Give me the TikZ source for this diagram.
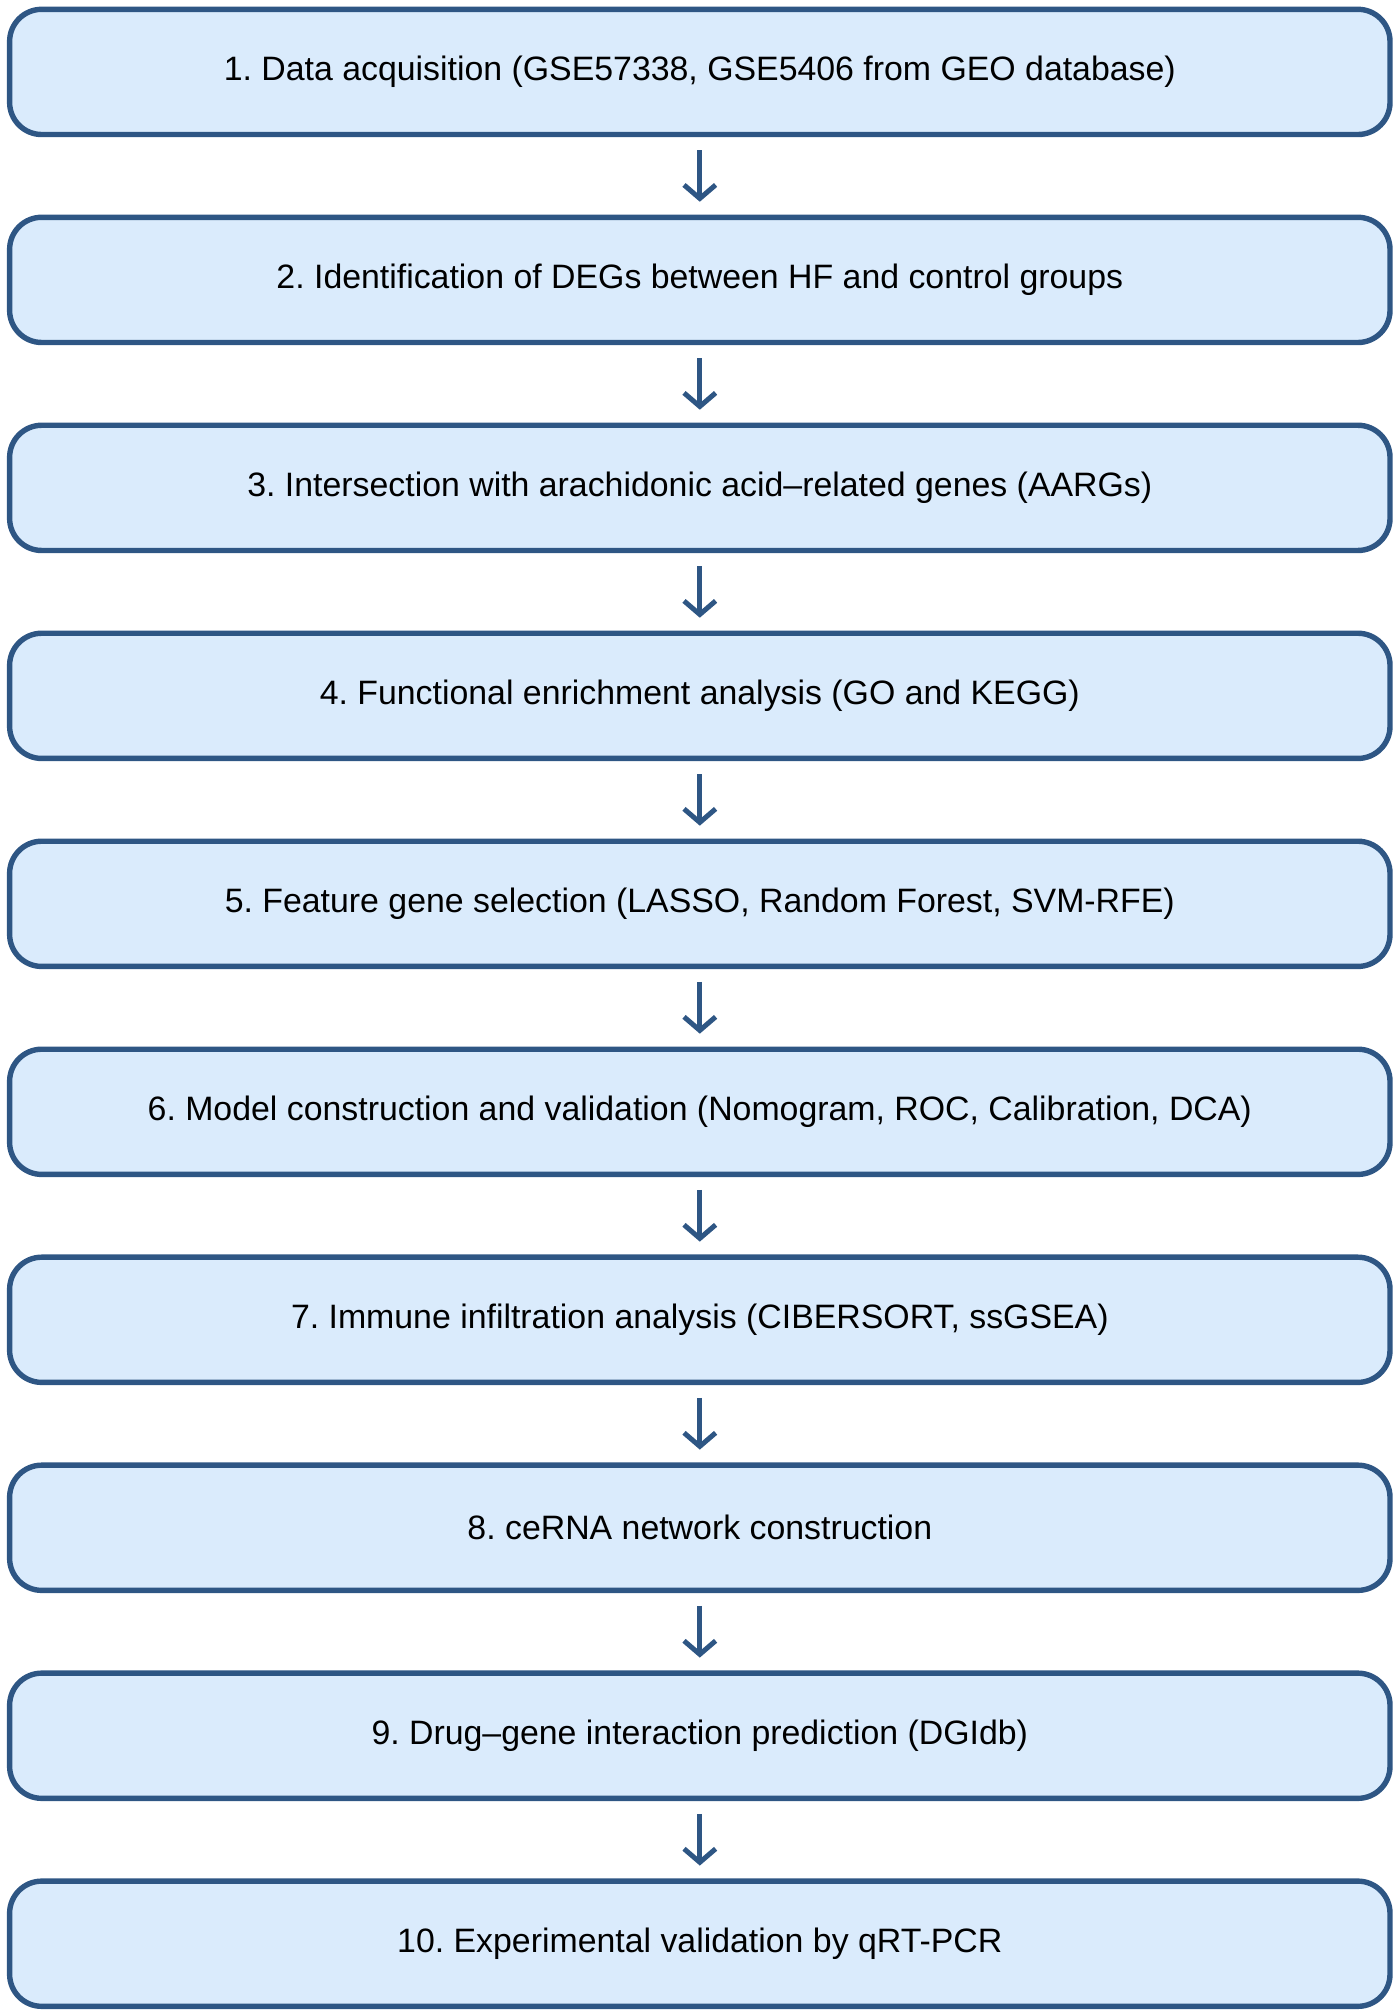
\documentclass[tikz,border=0pt]{standalone}
\usepackage{fontspec}
\setmainfont{Liberation Sans}
\usepackage{xcolor}
\definecolor{stepblue}{RGB}{46,86,132}
\definecolor{steplight}{RGB}{218,235,252}
\usetikzlibrary{arrows.meta, positioning}
\frenchspacing

\begin{document}
\begin{tikzpicture}[
    node distance=1.205cm,
    stage/.style={rectangle, draw=stepblue, fill=steplight, line width=2.4pt, rounded corners=0.5cm, minimum width=21.5cm, minimum height=1.95cm, align=center, font=\fontsize{15}{18}\selectfont},
    arrow/.style={-{Straight Barb[length=6pt,width=14pt]}, line width=2.2pt, stepblue, shorten <=0.2cm, shorten >=0.2cm}
]
    \useasboundingbox (-10.9,1.12) rectangle (10.9,-30.28);

    % Steps top to bottom
    \node[stage] (acq) at (0,0) {1. Data acquisition (GSE57338, GSE5406 from GEO database)};
    \node[stage, below=of acq] (deg) {2. Identification of DEGs between HF and control groups};
    \node[stage, below=of deg] (aarg) {3. Intersection with arachidonic acid--related genes (AARGs)};
    \node[stage, below=of aarg] (enr) {4. Functional enrichment analysis (GO and KEGG)};
    \node[stage, below=of enr] (feat) {5. Feature gene selection (LASSO, Random Forest, SVM-RFE)};
    \node[stage, below=of feat] (model) {6. Model construction and validation (Nomogram, ROC, Calibration, DCA)};
    \node[stage, below=of model] (imm) {7. Immune infiltration analysis (CIBERSORT, ssGSEA)};
    \node[stage, below=of imm] (cerna) {8. ceRNA network construction};
    \node[stage, below=of cerna] (drug) {9. Drug--gene interaction prediction (DGIdb)};
    \node[stage, below=of drug] (qpcr) {10. Experimental validation by qRT-PCR};

    % Arrows
    \draw[arrow] (acq) -- (deg);
    \draw[arrow] (deg) -- (aarg);
    \draw[arrow] (aarg) -- (enr);
    \draw[arrow] (enr) -- (feat);
    \draw[arrow] (feat) -- (model);
    \draw[arrow] (model) -- (imm);
    \draw[arrow] (imm) -- (cerna);
    \draw[arrow] (cerna) -- (drug);
    \draw[arrow] (drug) -- (qpcr);

\end{tikzpicture}
\end{document}
